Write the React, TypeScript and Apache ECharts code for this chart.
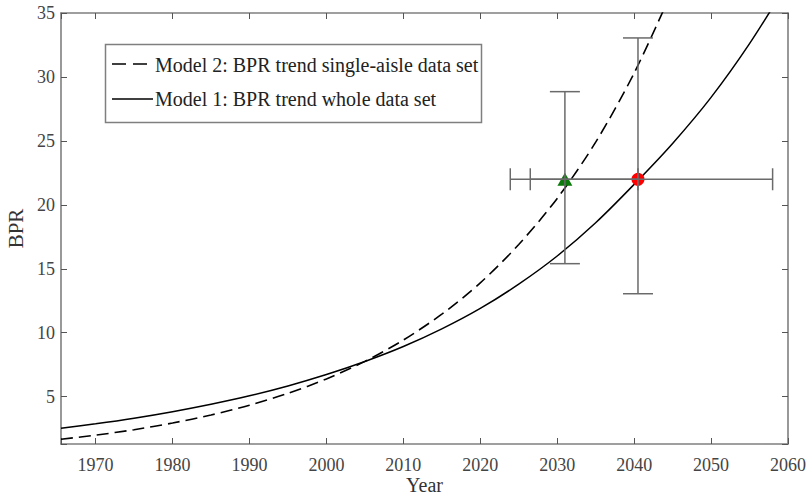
import React, { useEffect, useRef } from "react";
import * as echarts from "echarts";

// Years sampled along the trend curves
const years = [1965.5, 1970, 1975, 1980, 1985, 1990, 1995, 2000, 2005, 2010, 2015, 2020, 2025, 2030, 2035, 2040, 2045, 2050, 2055, 2060];
// Model 1: BPR trend whole data set (solid)
const model1 = [2.53, 2.88, 3.32, 3.83, 4.41, 5.07, 5.84, 6.73, 7.75, 8.92, 10.3, 11.9, 13.8, 16.0, 18.6, 21.6, 24.8, 28.4, 32.6, 37.4];
// Model 2: BPR trend single-aisle data set (dashed), beyond 2045 outside the plot
const model2 = [1.67, 1.99, 2.42, 2.94, 3.57, 4.33, 5.26, 6.39, 7.76, 9.43, 11.45, 13.9, 16.9, 20.5, 24.9, 30.3, 36.8];

// Marked points with error bars
const pointNames = ["Single-aisle estimate", "Whole data set estimate"];
const pointX = [2031, 2040.5];
const pointY = [22, 22];
const pointXLow = [2026.5, 2023.9];
const pointXHigh = [2040.5, 2058];
const pointYLow = [15.4, 13.05];
const pointYHigh = [28.85, 33.05];

const seriesNames = ["Model 2: BPR trend single-aisle data set", "Model 1: BPR trend whole data set"];

const FONT = "'Liberation Serif', 'DejaVu Serif', serif";
const AXIS_GRAY = "#7f7f7f";

export default function App() {
  const ref = useRef<HTMLDivElement>(null);
  useEffect(() => {
    if (!ref.current) return;
    const chart = echarts.init(ref.current, undefined, { renderer: "svg" });
    const m1 = years.map((x, i) => [x, model1[i]]);
    const m2 = model2.map((v, i) => [years[i], v]);
    const errData = pointX.map((x, i) => [x, pointY[i], pointXLow[i], pointXHigh[i], pointYLow[i], pointYHigh[i]]);

    const axisCommon = {
      axisLine: { show: true, onZero: false, lineStyle: { color: AXIS_GRAY, width: 1.6 } },
      axisTick: { show: true, inside: true, length: 6, lineStyle: { color: "#555", width: 1 } },
      splitLine: { show: false },
    };

    const legendText = (text: string, y: number) => ({
      type: "text",
      x: 155,
      y,
      style: { text, fontFamily: FONT, fontSize: 20, fill: "#222", verticalAlign: "middle", align: "left" },
      z: 101,
    });

    chart.setOption({
      animation: false,
      backgroundColor: "#fff",
      grid: { left: 61, right: 21, top: 13, bottom: 53, containLabel: false, outerBoundsMode: "none" },
      graphic: [
        {
          type: "rect",
          shape: { x: 105.5, y: 44.5, width: 376, height: 78 },
          style: { fill: "#fff", stroke: AXIS_GRAY, lineWidth: 1.5 },
          z: 100,
        },
        {
          type: "line",
          shape: { x1: 112, y1: 64, x2: 151, y2: 64 },
          style: { stroke: "#000", lineWidth: 1.6, lineDash: [14, 7] },
          z: 101,
        },
        {
          type: "line",
          shape: { x1: 112, y1: 99, x2: 153, y2: 99 },
          style: { stroke: "#000", lineWidth: 1.5 },
          z: 101,
        },
        legendText(seriesNames[0], 65),
        legendText(seriesNames[1], 99),
      ],
      xAxis: [
        {
          type: "value",
          min: 1965.5,
          max: 2060,
          splitNumber: 9,
          name: "Year",
          nameLocation: "middle",
          nameGap: 31,
          nameMoveOverlap: false,
          nameTextStyle: { fontFamily: FONT, fontSize: 20, color: "#333", lineHeight: 20 },
          axisLabel: {
            fontFamily: FONT,
            fontSize: 18,
            color: "#444",
            margin: 12,
            formatter: (v: number) => (Math.abs(v % 10) < 1e-6 ? String(v) : ""),
          },
          ...axisCommon,
        },
        {
          type: "value",
          position: "top",
          min: 1965.5,
          max: 2060,
          splitNumber: 9,
          axisLabel: { show: false },
          ...axisCommon,
        },
      ],
      yAxis: [
        {
          type: "value",
          min: 1.3,
          max: 35,
          splitNumber: 7,
          name: "BPR",
          nameLocation: "middle",
          nameGap: 35,
          nameMoveOverlap: false,
          nameTextStyle: { fontFamily: FONT, fontSize: 21, color: "#333" },
          axisLabel: {
            fontFamily: FONT,
            fontSize: 18,
            color: "#444",
            margin: 6,
            formatter: (v: number) => (Math.abs(v % 5) < 1e-6 ? String(v) : ""),
          },
          ...axisCommon,
        },
        {
          type: "value",
          position: "right",
          min: 1.3,
          max: 35,
          splitNumber: 7,
          axisLabel: { show: false },
          ...axisCommon,
        },
      ],
      series: [
        {
          name: seriesNames[0],
          type: "line",
          data: m2,
          smooth: 0.3,
          symbol: "none",
          clip: true,
          lineStyle: { color: "#000", width: 1.6, type: [12, 6] },
          z: 3,
        },
        {
          name: seriesNames[1],
          type: "line",
          data: m1,
          smooth: 0.3,
          symbol: "none",
          clip: true,
          lineStyle: { color: "#000", width: 1.5, type: "solid" },
          z: 3,
        },
        {
          name: pointNames[0],
          type: "scatter",
          data: [[pointX[0], pointY[0]]],
          symbol: "triangle",
          symbolSize: [15, 13],
          itemStyle: { color: "#0a7a0a", opacity: 1 },
          z: 4,
        },
        {
          name: pointNames[1],
          type: "scatter",
          data: [[pointX[1], pointY[1]]],
          symbol: "circle",
          symbolSize: 13,
          itemStyle: { color: "#ff0000", opacity: 1 },
          z: 4,
        },
        {
          name: "error bars",
          type: "custom",
          data: errData,
          z: 5,
          renderItem: (params: any, api: any) => {
            const x = api.value(0);
            const y = api.value(1);
            const xl = api.value(2);
            const xh = api.value(3);
            const yl = api.value(4);
            const yh = api.value(5);
            const c = api.coord([x, y]);
            const pxl = api.coord([xl, y]);
            const pxh = api.coord([xh, y]);
            const pyl = api.coord([x, yl]);
            const pyh = api.coord([x, yh]);
            const st = { stroke: "#6a6a6a", lineWidth: 1.5 };
            const capW = 15;
            const capH = 11;
            const ln = (x1: number, y1: number, x2: number, y2: number) => ({
              type: "line",
              shape: { x1, y1, x2, y2 },
              style: st,
            });
            return {
              type: "group",
              children: [
                ln(c[0], pyl[1], c[0], pyh[1]),
                ln(c[0] - capW, pyl[1], c[0] + capW, pyl[1]),
                ln(c[0] - capW, pyh[1], c[0] + capW, pyh[1]),
                ln(pxl[0], c[1], pxh[0], c[1]),
                ln(pxl[0], c[1] - capH, pxl[0], c[1] + capH),
                ln(pxh[0], c[1] - capH, pxh[0], c[1] + capH),
              ],
            };
          },
        },
      ],
    });
    return () => chart.dispose();
  }, []);
  return <div ref={ref} style={{ width: 809, height: 497, position: "absolute", left: 0, top: 0 }} />;
}
